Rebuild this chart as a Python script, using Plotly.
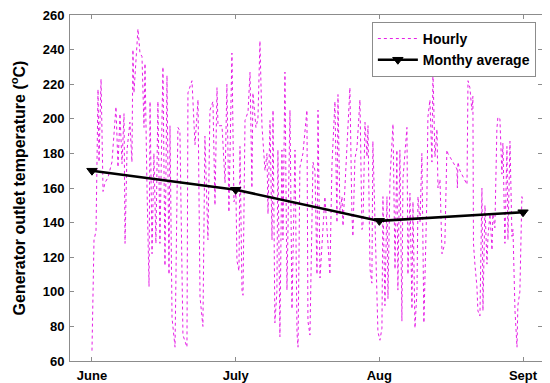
import plotly.graph_objects as go

# x positions are in months from 1 June (June=0, July=1, Aug=2, Sept=3)
month_ticks = [0, 1, 2, 3]
month_labels = ["June", "July", "Aug", "Sept"]
monthly_avg = [170, 159, 141, 146]

hourly_t = [
    0.000, 0.014, 0.028, 0.042, 0.049, 0.063, 0.077, 0.090, 0.111, 0.139,
    0.167, 0.181, 0.195, 0.209, 0.223, 0.230, 0.244, 0.264, 0.278, 0.285,
    0.292, 0.320, 0.334, 0.348, 0.362, 0.369, 0.383, 0.397, 0.404, 0.418,
    0.431, 0.445, 0.459, 0.473, 0.487, 0.494, 0.508, 0.522, 0.536, 0.543,
    0.557, 0.578, 0.598, 0.612, 0.633, 0.661, 0.668, 0.696, 0.717, 0.738,
    0.752, 0.772, 0.786, 0.807, 0.821, 0.842, 0.856, 0.870, 0.877, 0.905,
    0.926, 0.939, 0.953, 0.974, 0.988, 1.002, 1.009, 1.023, 1.030, 1.044,
    1.051, 1.065, 1.086, 1.100, 1.113, 1.120, 1.141, 1.155, 1.169, 1.183,
    1.204, 1.218, 1.225, 1.239, 1.253, 1.260, 1.273, 1.287, 1.294, 1.308,
    1.322, 1.329, 1.343, 1.357, 1.378, 1.392, 1.413, 1.427, 1.434, 1.447,
    1.468, 1.496, 1.503, 1.517, 1.538, 1.552, 1.566, 1.573, 1.587, 1.601,
    1.621, 1.642, 1.656, 1.670, 1.691, 1.705, 1.712, 1.726, 1.740, 1.747,
    1.781, 1.795, 1.809, 1.816, 1.830, 1.844, 1.865, 1.879, 1.886, 1.900,
    1.914, 1.921, 1.935, 1.948, 1.955, 1.983, 1.990, 2.004, 2.018, 2.025,
    2.039, 2.053, 2.060, 2.074, 2.088, 2.095, 2.109, 2.122, 2.129, 2.143,
    2.157, 2.164, 2.192, 2.199, 2.213, 2.227, 2.234, 2.248, 2.262, 2.269,
    2.283, 2.296, 2.310, 2.317, 2.331, 2.338, 2.352, 2.366, 2.373, 2.387,
    2.401, 2.408, 2.422, 2.436, 2.456, 2.470, 2.477, 2.540, 2.543, 2.547,
    2.561, 2.610, 2.617, 2.630, 2.644, 2.651, 2.655, 2.665, 2.679, 2.686,
    2.700, 2.714, 2.721, 2.735, 2.749, 2.756, 2.770, 2.784, 2.790, 2.804,
    2.818, 2.825, 2.839, 2.853, 2.860, 2.874, 2.888, 2.895, 2.909, 2.923,
    2.930, 2.944, 2.958, 2.964, 2.978, 2.992, 3.000,
]
hourly_temp = [
    66, 130, 135, 217, 175, 223, 158, 163, 166, 175,
    207, 172, 203, 174, 203, 128, 182, 198, 175, 240,
    215, 252, 238, 236, 195, 232, 160, 103, 210, 122,
    180, 128, 210, 128, 198, 230, 115, 225, 110, 196,
    85, 68, 195, 193, 75, 68, 215, 222, 185, 211,
    97, 80, 190, 130, 205, 210, 150, 218, 196, 196,
    163, 220, 146, 238, 152, 157, 118, 112, 184, 101,
    98, 199, 204, 227, 160, 215, 195, 200, 245, 196,
    170, 180, 145, 199, 130, 205, 82, 100, 182, 74,
    182, 130, 227, 101, 205, 90, 182, 76, 68, 172,
    180, 205, 83, 75, 175, 170, 110, 205, 108, 128,
    155, 128, 110, 173, 210, 140, 214, 145, 155, 138,
    197, 218, 145, 132, 177, 183, 211, 136, 138, 198,
    178, 196, 113, 105, 187, 88, 77, 72, 79, 155,
    92, 155, 96, 165, 192, 197, 113, 182, 101, 182,
    83, 165, 195, 110, 157, 90, 152, 79, 101, 155,
    140, 180, 82, 104, 155, 201, 211, 175, 228, 178,
    194, 160, 165, 122, 128, 182, 180, 171, 160, 175,
    170, 162, 222, 218, 205, 213, 128, 116, 103, 89,
    86, 160, 89, 150, 116, 132, 145, 124, 145, 137,
    194, 201, 200, 168, 186, 128, 184, 130, 187, 132,
    136, 89, 68, 92, 100, 155, 152,
]

font_family = "Liberation Sans, Arial, sans-serif"

fig = go.Figure()
fig.add_trace(go.Scatter(
    x=hourly_t, y=hourly_temp, mode="lines", name="Hourly",
    line=dict(color="#e61ee6", width=1, dash="dot"),
))
fig.add_trace(go.Scatter(
    x=month_ticks, y=monthly_avg, mode="lines+markers", name="Monthy average",
    line=dict(color="black", width=2.5),
    marker=dict(symbol="triangle-down", size=9, color="black",
                line=dict(color="black", width=1)),
))

axis_common = dict(
    showline=True, linecolor="#8c8c8c", linewidth=1, mirror="ticks",
    ticks="inside", ticklen=4, tickcolor="#8c8c8c",
    showgrid=False, zeroline=False, automargin=False,
    ticklabeloverflow="allow",
    tickfont=dict(family=font_family, size=13, color="black", weight="bold"),
)

fig.update_xaxes(
    range=[-0.153, 3.132], tickvals=month_ticks, ticktext=month_labels,
    ticklabelstandoff=2,
    **axis_common,
)
fig.update_yaxes(
    range=[60, 260], tickvals=list(range(60, 261, 20)),
    ticklabelstandoff=2,
    title=dict(text="Generator outlet temperature (<sup>o</sup>C)",
               font=dict(family=font_family, size=16, color="black", weight="bold"),
               standoff=18),
    **axis_common,
)

# the page adds an 8px body margin, so margins are reduced to keep the plot in place
fig.update_layout(
    width=550, height=383,
    margin=dict(l=62, r=16, t=7, b=30),
    paper_bgcolor="white", plot_bgcolor="white",
    showlegend=True,
    legend=dict(
        x=0.987, y=0.98, xanchor="right", yanchor="top",
        bgcolor="white", bordercolor="#8c8c8c", borderwidth=1,
        font=dict(family=font_family, size=14, color="black", weight="bold"),
        tracegroupgap=0, itemwidth=40,
    ),
)

fig.write_html("out.html")
